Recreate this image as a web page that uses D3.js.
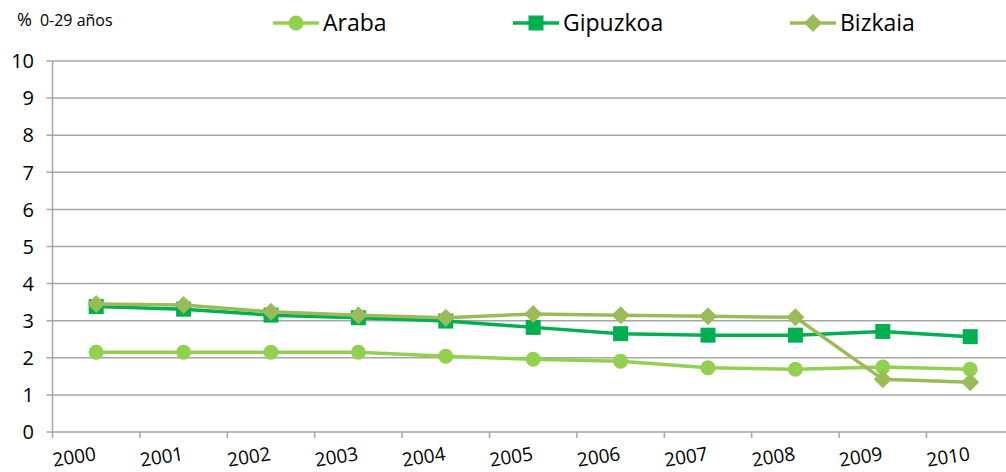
<!DOCTYPE html>
<html>
<head>
<meta charset="utf-8">
<script src="https://cdn.jsdelivr.net/npm/d3@7"></script>
<style>
  body { margin: 0; background: #fff; }
  svg { display: block; font-family: "Open Sans", "Noto Sans", sans-serif; }
</style>
</head>
<body>
<div id="chart"></div>
<script>
const years = ["2000", "2001", "2002", "2003", "2004", "2005", "2006", "2007", "2008", "2009", "2010"];
const araba = [2.15, 2.15, 2.15, 2.15, 2.04, 1.96, 1.91, 1.73, 1.69, 1.75, 1.69];
const gipuzkoa = [3.38, 3.31, 3.15, 3.08, 2.99, 2.82, 2.65, 2.61, 2.61, 2.71, 2.57];
const bizkaia = [3.45, 3.42, 3.24, 3.15, 3.08, 3.18, 3.15, 3.12, 3.09, 1.42, 1.34];
const yTicks = [0, 1, 2, 3, 4, 5, 6, 7, 8, 9, 10];

const series = [
    { name: "Araba", values: araba, color: "#92D050", marker: "circle" },
    { name: "Gipuzkoa", values: gipuzkoa, color: "#00B050", marker: "square" },
    { name: "Bizkaia", values: bizkaia, color: "#9BBB59", marker: "diamond" }
];

// Dimensions
const width = 1006;
const height = 472;
const plotLeft = 52.5;
const band = 87.4;
const plotTop = 61;
const plotBottom = 432;

const svg = d3.select("#chart")
    .append("svg")
    .attr("width", width)
    .attr("height", height);

// Scales
const x = d3.scaleBand()
    .domain(years)
    .range([plotLeft, plotLeft + band * years.length]);

const y = d3.scaleLinear()
    .domain([0, 10])
    .range([plotBottom, plotTop]);

// Gridlines
svg.append("g")
    .selectAll("line")
    .data(yTicks)
    .enter()
    .append("line")
    .attr("x1", plotLeft - 6)
    .attr("x2", width)
    .attr("y1", d => y(d))
    .attr("y2", d => y(d))
    .attr("stroke", "#A6A6A6")
    .attr("stroke-width", 1.5);

// Y axis line
svg.append("line")
    .attr("x1", plotLeft).attr("x2", plotLeft)
    .attr("y1", plotTop).attr("y2", plotBottom)
    .attr("stroke", "#A6A6A6")
    .attr("stroke-width", 1.5);

// Y labels
svg.append("g")
    .selectAll("text")
    .data(yTicks)
    .enter()
    .append("text")
    .attr("x", 34)
    .attr("y", d => y(d))
    .attr("dy", "0.36em")
    .attr("text-anchor", "end")
    .attr("font-size", 20)
    .attr("fill", "#000")
    .text(d => d);

// X tick marks at band edges
const edges = years.map(d => x(d)).concat([x(years[years.length - 1]) + x.bandwidth()]);
svg.append("g")
    .selectAll("line")
    .data(edges.filter(d => d < width))
    .enter()
    .append("line")
    .attr("x1", d => d).attr("x2", d => d)
    .attr("y1", plotBottom).attr("y2", plotBottom + 6)
    .attr("stroke", "#A6A6A6")
    .attr("stroke-width", 1.5);

// X labels, rotated
svg.append("g")
    .selectAll("text")
    .data(years)
    .enter()
    .append("text")
    .attr("transform", d => `translate(${x(d) + x.bandwidth() / 2 + 0.5}, 460) rotate(-9)`)
    .attr("text-anchor", "end")
    .attr("font-size", 19)
    .attr("fill", "#000")
    .text(d => d);

// Marker helper
function drawMarker(g, type, cx, cy, color) {
    if (type === "circle") {
        g.append("circle").attr("cx", cx).attr("cy", cy).attr("r", 7.5).attr("fill", color);
    } else if (type === "square") {
        g.append("rect").attr("x", cx - 7.5).attr("y", cy - 7.5).attr("width", 15).attr("height", 15).attr("fill", color);
    } else {
        const s = 9;
        g.append("path")
            .attr("d", `M${cx},${cy - s}L${cx + s},${cy}L${cx},${cy + s}L${cx - s},${cy}Z`)
            .attr("fill", color);
    }
}

const line = d3.line()
    .x((d, i) => x(years[i]) + x.bandwidth() / 2)
    .y(d => y(d));

// Series
series.forEach(s => {
    const g = svg.append("g");
    g.append("path")
        .attr("d", line(s.values))
        .attr("fill", "none")
        .attr("stroke", s.color)
        .attr("stroke-width", 3.5);
    s.values.forEach((v, i) => {
        drawMarker(g, s.marker, x(years[i]) + x.bandwidth() / 2, y(v), s.color);
    });
});

// Legend
const legendX = [273, 513, 790];
series.forEach((s, i) => {
    const g = svg.append("g").attr("transform", `translate(${legendX[i]}, 23)`);
    g.append("line")
        .attr("x1", 0).attr("x2", 46)
        .attr("y1", 0).attr("y2", 0)
        .attr("stroke", s.color)
        .attr("stroke-width", 3.5);
    drawMarker(g, s.marker, 23, 0, s.color);
    g.append("text")
        .attr("x", 50)
        .attr("y", 0)
        .attr("dy", "0.36em")
        .attr("font-size", 23)
        .attr("fill", "#000")
        .text(s.name);
});

// Y axis title
const title = svg.append("text")
    .attr("x", 17)
    .attr("y", 26)
    .attr("fill", "#000");
title.append("tspan").attr("font-size", 18).text("%");
title.append("tspan").attr("font-size", 16).attr("dx", 8).text("0-29 años");
</script>
</body>
</html>
